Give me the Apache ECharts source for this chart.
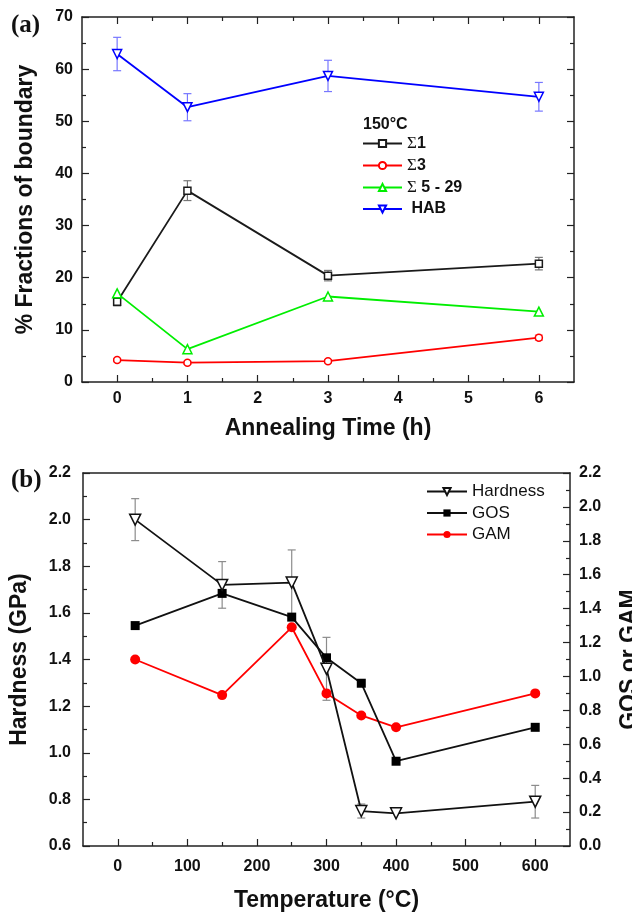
<!DOCTYPE html>
<html>
<head>
<meta charset="utf-8">
<script src="https://cdn.jsdelivr.net/npm/echarts@6/dist/echarts.min.js"></script>
<style>
  html, body { margin: 0; padding: 0; background: #fff; }
  #chart { width: 632px; height: 914px; }
</style>
</head>
<body>
<div id="chart"></div>
<script>
// Panel (a): boundary fractions vs annealing time at 150 °C
const timeH = [0, 1, 3, 6];
const sigma1 = [15.4, 36.7, 20.4, 22.7];
const sigma1Err = [0.8, 1.9, 1.0, 1.2];
const sigma3 = [4.2, 3.7, 4.0, 8.5];
const sigma3Err = [0.3, 0.3, 0.3, 0.5];
const sigma529 = [17.0, 6.3, 16.4, 13.5];
const hab = [62.9, 52.7, 58.7, 54.7];
const habErr = [3.2, 2.6, 3.0, 2.75];
const timeTicks = [0, 1, 2, 3, 4, 5, 6];
const timeMinorTicks = [0.5, 1.5, 2.5, 3.5, 4.5, 5.5];

// Panel (b): hardness, GOS and GAM vs temperature
const tempC = [25, 150, 250, 300, 350, 400, 600];
const hardness = [2.0, 1.72, 1.73, 1.36, 0.75, 0.74, 0.79];
const hardnessErr = [0.09, 0.10, 0.14, 0.135, 0.03, 0.0, 0.07];
const gos = [1.30, 1.49, 1.35, 1.11, 0.96, 0.50, 0.70];
const gam = [1.10, 0.89, 1.29, 0.90, 0.77, 0.70, 0.90];
const tempTicks = [0, 100, 200, 300, 400, 500, 600];
const tempMinorTicks = [50, 150, 250, 350, 450, 550];

const SANS = '"Liberation Sans", Arial, Helvetica, sans-serif';
const SERIF = '"Liberation Serif", "Times New Roman", serif';

const chart = echarts.init(document.getElementById('chart'), null, { renderer: 'canvas' });

function errorBars(xs, ys, errs, color) {
  return {
    type: 'custom',
    silent: true,
    data: xs.map((x, i) => [x, ys[i] - errs[i], ys[i] + errs[i]]),
    encode: { x: 0, y: [1, 2] },
    renderItem: function (params, api) {
      const x = api.value(0);
      const top = api.coord([x, api.value(2)]);
      const bot = api.coord([x, api.value(1)]);
      const w = 4;
      const st = { stroke: color, lineWidth: 1.2 };
      return {
        type: 'group',
        children: [
          { type: 'line', shape: { x1: top[0], y1: top[1], x2: bot[0], y2: bot[1] }, style: st },
          { type: 'line', shape: { x1: top[0] - w, y1: top[1], x2: top[0] + w, y2: top[1] }, style: st },
          { type: 'line', shape: { x1: bot[0] - w, y1: bot[1], x2: bot[0] + w, y2: bot[1] }, style: st }
        ]
      };
    },
    z: 1
  };
}

function pairs(xs, ys) { return xs.map((x, i) => [x, ys[i]]); }

const tickLabel = { fontFamily: SANS, fontWeight: 'bold', fontSize: 16, color: '#111' };
const axisLine = { show: true, onZero: false, lineStyle: { color: '#222', width: 1.5 } };
const noLine = { show: false, onZero: false };
const titleText = { fontFamily: SANS, fontWeight: 'bold', fontSize: 23, color: '#111' };
const tickStyle = { color: '#222', width: 1.2 };

const option = {
  backgroundColor: '#fff',
  animation: false,
  title: [
    { text: '(a)', left: 6, top: 8, textStyle: { fontFamily: SERIF, fontWeight: 'bold', fontSize: 25, color: '#111' } },
    { text: '(b)', left: 6, top: 463, textStyle: { fontFamily: SERIF, fontWeight: 'bold', fontSize: 25, color: '#111' } },
    { text: '150°C', left: 358, top: 112, textStyle: { fontFamily: SANS, fontWeight: 'bold', fontSize: 16, color: '#111' } }
  ],
  grid: [
    { left: 82, width: 492, top: 17, height: 365, outerBoundsMode: 'none' },
    { left: 83, width: 487, top: 473, height: 373, outerBoundsMode: 'none' }
  ],
  legend: [
    {
      data: ['Σ1', 'Σ3', 'Σ 5 - 29', 'HAB'],
      left: 357, top: 130, orient: 'vertical',
      itemWidth: 39, itemHeight: 9, itemGap: 5,
      formatter: function (name) {
        if (name.charAt(0) === 'Σ') return '{s|Σ}{b|' + name.slice(1) + '}';
        return '{b| ' + name + '}';
      },
      textStyle: {
        rich: {
          s: { fontFamily: SERIF, fontSize: 17, color: '#111' },
          b: { fontFamily: SANS, fontWeight: 'bold', fontSize: 16, color: '#111' }
        }
      }
    },
    {
      data: ['Hardness', 'GOS', 'GAM'],
      left: 421, top: 478, orient: 'vertical',
      itemWidth: 40, itemHeight: 9, itemGap: 4.5,
      textStyle: { fontFamily: SANS, fontSize: 17, color: '#111' }
    }
  ],
  xAxis: [
    {
      gridIndex: 0, type: 'value', min: -0.5, max: 6.5, position: 'bottom',
      name: 'Annealing Time (h)', nameLocation: 'middle', nameGap: 35,
      nameTextStyle: titleText,
      axisLine: axisLine,
      axisTick: { inside: true, length: 7, customValues: timeTicks, lineStyle: tickStyle },
      axisLabel: Object.assign({ customValues: timeTicks, margin: 9 }, tickLabel),
      splitLine: { show: false }
    },
    {
      gridIndex: 0, type: 'value', min: -0.5, max: 6.5, position: 'bottom',
      axisLine: noLine,
      axisTick: { inside: true, length: 4, customValues: timeMinorTicks, lineStyle: tickStyle },
      axisLabel: { show: false }, splitLine: { show: false }
    },
    {
      gridIndex: 0, type: 'value', min: -0.5, max: 6.5, position: 'top',
      axisLine: axisLine,
      axisTick: { inside: true, length: 7, customValues: timeTicks, lineStyle: tickStyle },
      axisLabel: { show: false }, splitLine: { show: false }
    },
    {
      gridIndex: 0, type: 'value', min: -0.5, max: 6.5, position: 'top',
      axisLine: noLine,
      axisTick: { inside: true, length: 4, customValues: timeMinorTicks, lineStyle: tickStyle },
      axisLabel: { show: false }, splitLine: { show: false }
    },
    {
      gridIndex: 1, type: 'value', min: -50, max: 650, position: 'bottom',
      name: 'Temperature (°C)', nameLocation: 'middle', nameGap: 43,
      nameTextStyle: titleText,
      axisLine: axisLine,
      axisTick: { inside: true, length: 7, customValues: tempTicks, lineStyle: tickStyle },
      axisLabel: Object.assign({ customValues: tempTicks, margin: 13 }, tickLabel),
      splitLine: { show: false }
    },
    {
      gridIndex: 1, type: 'value', min: -50, max: 650, position: 'bottom',
      axisLine: noLine,
      axisTick: { inside: true, length: 4, customValues: tempMinorTicks, lineStyle: tickStyle },
      axisLabel: { show: false }, splitLine: { show: false }
    },
    {
      gridIndex: 1, type: 'value', min: -50, max: 650, position: 'top',
      axisLine: axisLine, axisTick: { show: false }, axisLabel: { show: false }, splitLine: { show: false }
    }
  ],
  yAxis: [
    {
      gridIndex: 0, type: 'value', min: 0, max: 70, interval: 10, position: 'left',
      name: '% Fractions of boundary', nameLocation: 'middle', nameGap: 45, nameRotate: 90,
      nameTextStyle: titleText,
      axisLine: axisLine,
      axisTick: { inside: true, length: 7, lineStyle: tickStyle },
      minorTick: { show: true, splitNumber: 2, length: 4, lineStyle: tickStyle },
      axisLabel: Object.assign({ margin: 9 }, tickLabel),
      splitLine: { show: false }
    },
    {
      gridIndex: 0, type: 'value', min: 0, max: 70, interval: 10, position: 'right',
      axisLine: axisLine,
      axisTick: { inside: true, length: 7, lineStyle: tickStyle },
      minorTick: { show: true, splitNumber: 2, length: 4, lineStyle: tickStyle },
      axisLabel: { show: false }, splitLine: { show: false }
    },
    {
      gridIndex: 1, type: 'value', min: 0.6, max: 2.2, interval: 0.2, position: 'left',
      name: 'Hardness (GPa)', nameLocation: 'middle', nameGap: 52, nameRotate: 90,
      nameTextStyle: titleText,
      axisLine: axisLine,
      axisTick: { inside: true, length: 7, lineStyle: tickStyle },
      minorTick: { show: true, splitNumber: 2, length: 4, lineStyle: tickStyle },
      axisLabel: Object.assign({ margin: 12, formatter: v => v.toFixed(1) }, tickLabel),
      splitLine: { show: false }
    },
    {
      gridIndex: 1, type: 'value', min: 0, max: 2.2, interval: 0.2, position: 'right',
      name: 'GOS or GAM', nameLocation: 'middle', nameGap: 48, nameRotate: 90,
      nameTextStyle: titleText,
      axisLine: axisLine,
      axisTick: { inside: true, length: 7, lineStyle: tickStyle },
      minorTick: { show: true, splitNumber: 2, length: 4, lineStyle: tickStyle },
      axisLabel: Object.assign({ margin: 9, formatter: v => v.toFixed(1) }, tickLabel),
      splitLine: { show: false }
    }
  ],
  series: [
    // (a) error bars
    Object.assign(errorBars(timeH, hab, habErr, '#7777ff'), { xAxisIndex: 0, yAxisIndex: 0 }),
    Object.assign(errorBars(timeH, sigma1, sigma1Err, '#777777'), { xAxisIndex: 0, yAxisIndex: 0 }),
    Object.assign(errorBars(timeH, sigma3, sigma3Err, '#ff7777'), { xAxisIndex: 0, yAxisIndex: 0 }),
    // (a) lines
    {
      name: 'Σ1', type: 'line', xAxisIndex: 0, yAxisIndex: 0, data: pairs(timeH, sigma1),
      symbol: 'rect', symbolSize: 7, color: '#1a1a1a',
      lineStyle: { width: 1.8, color: '#1a1a1a' },
      itemStyle: { color: '#fff', borderColor: '#1a1a1a', borderWidth: 1.5 }, z: 3
    },
    {
      name: 'Σ3', type: 'line', xAxisIndex: 0, yAxisIndex: 0, data: pairs(timeH, sigma3),
      symbol: 'circle', symbolSize: 7, color: '#ff0000',
      lineStyle: { width: 1.8, color: '#ff0000' },
      itemStyle: { color: '#fff', borderColor: '#ff0000', borderWidth: 1.5 }, z: 3
    },
    {
      name: 'Σ 5 - 29', type: 'line', xAxisIndex: 0, yAxisIndex: 0, data: pairs(timeH, sigma529),
      symbol: 'triangle', symbolSize: 9, color: '#00ee00',
      lineStyle: { width: 1.8, color: '#00ee00' },
      itemStyle: { color: '#fff', borderColor: '#00ee00', borderWidth: 1.5 }, z: 3
    },
    {
      name: 'HAB', type: 'line', xAxisIndex: 0, yAxisIndex: 0, data: pairs(timeH, hab),
      symbol: 'triangle', symbolRotate: 180, symbolSize: 9, color: '#0000ff',
      lineStyle: { width: 1.8, color: '#0000ff' },
      itemStyle: { color: '#fff', borderColor: '#0000ff', borderWidth: 1.5 }, z: 3
    },
    // (b) error bars
    Object.assign(errorBars(tempC, hardness, hardnessErr, '#8c8c8c'), { xAxisIndex: 4, yAxisIndex: 2 }),
    // (b) lines
    {
      name: 'GAM', type: 'line', xAxisIndex: 4, yAxisIndex: 3, data: pairs(tempC, gam),
      symbol: 'circle', symbolSize: 10, color: '#ff0000',
      lineStyle: { width: 1.8, color: '#ff0000' },
      itemStyle: { color: '#ff0000' }, z: 3
    },
    {
      name: 'GOS', type: 'line', xAxisIndex: 4, yAxisIndex: 3, data: pairs(tempC, gos),
      symbol: 'rect', symbolSize: 9, color: '#000',
      lineStyle: { width: 1.8, color: '#111' },
      itemStyle: { color: '#000' }, z: 4
    },
    {
      name: 'Hardness', type: 'line', xAxisIndex: 4, yAxisIndex: 2, data: pairs(tempC, hardness),
      symbol: 'triangle', symbolRotate: 180, symbolSize: 11, color: '#111',
      lineStyle: { width: 1.8, color: '#111' },
      itemStyle: { color: '#fff', borderColor: '#111', borderWidth: 1.5 }, z: 5
    }
  ]
};

chart.setOption(option);
</script>
</body>
</html>
